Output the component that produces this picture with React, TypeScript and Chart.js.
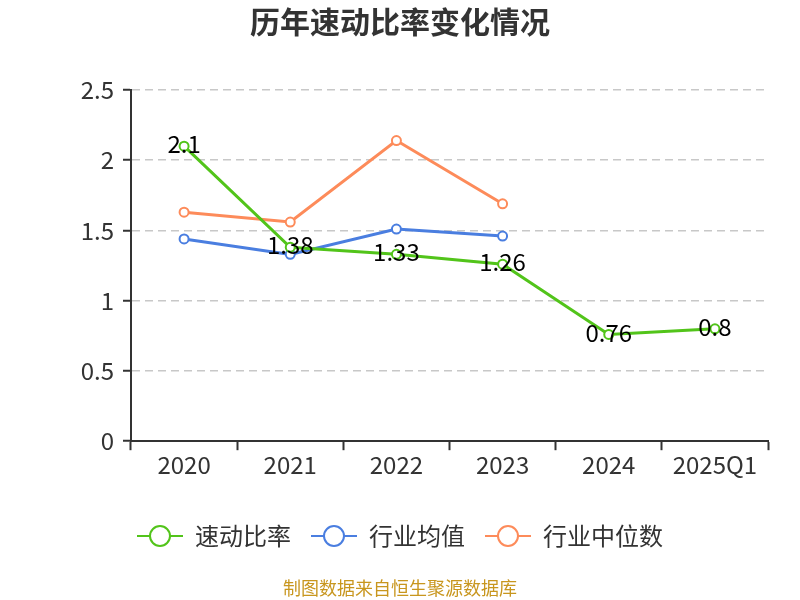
import React, { useEffect, useRef } from 'react';
import Chart from 'chart.js/auto';

const categories = ['2020', '2021', '2022', '2023', '2024', '2025Q1'];
const quickRatio = [2.1, 1.38, 1.33, 1.26, 0.76, 0.8];
const industryMean = [1.44, 1.33, 1.51, 1.46, null, null];
const industryMedian = [1.63, 1.56, 2.14, 1.69, null, null];
const seriesNames = ['速动比率', '行业均值', '行业中位数'];
const seriesColors = ['#52c41a', '#4a7ee0', '#fd8b5a'];

const FONT = '"Noto Sans CJK SC", "Noto Sans", sans-serif';

// line + hollow circle legend icon
const makeIcon = (color: string) => {
  const c = document.createElement('canvas');
  c.width = 46;
  c.height = 26;
  const ctx = c.getContext('2d')!;
  ctx.strokeStyle = color;
  ctx.lineWidth = 2;
  ctx.beginPath();
  ctx.moveTo(0, 13);
  ctx.lineTo(46, 13);
  ctx.stroke();
  ctx.beginPath();
  ctx.arc(23, 13, 10, 0, Math.PI * 2);
  ctx.fillStyle = '#fff';
  ctx.fill();
  ctx.stroke();
  return c;
};

const labelPlugin = {
  id: 'valueLabels',
  afterDatasetsDraw(chart: any) {
    const ctx = chart.ctx;
    const meta = chart.getDatasetMeta(0);
    ctx.save();
    ctx.font = `24px ${FONT}`;
    ctx.fillStyle = '#000';
    ctx.textAlign = 'center';
    ctx.textBaseline = 'middle';
    meta.data.forEach((pt: any, i: number) => {
      ctx.fillText(String(quickRatio[i]), pt.x, pt.y - 2);
    });
    ctx.restore();
  },
};

const sourcePlugin = {
  id: 'sourceNote',
  afterDraw(chart: any) {
    const ctx = chart.ctx;
    ctx.save();
    ctx.font = `18px ${FONT}`;
    ctx.fillStyle = '#c8961e';
    ctx.textAlign = 'center';
    ctx.textBaseline = 'middle';
    ctx.fillText('制图数据来自恒生聚源数据库', chart.width / 2, 588);
    ctx.restore();
  },
};

const App: React.FC = () => {
  const canvasRef = useRef<HTMLCanvasElement | null>(null);

  useEffect(() => {
    document.body.style.margin = '0';
    if (!canvasRef.current) return;
    const icons = seriesColors.map(makeIcon);
    const allData = [quickRatio, industryMean, industryMedian];

    const chart = new Chart(canvasRef.current, {
      type: 'line',
      data: {
        labels: categories,
        datasets: allData.map((d, i) => ({
          label: seriesNames[i],
          data: d,
          borderColor: seriesColors[i],
          backgroundColor: '#fff',
          borderWidth: 3,
          pointRadius: 4.5,
          pointBorderWidth: 2,
          pointBackgroundColor: '#fff',
          pointBorderColor: seriesColors[i],
          tension: 0,
        })),
      },
      options: {
        animation: false,
        responsive: false,
        layout: { padding: { left: 32, right: 32, top: 0, bottom: 42 } },
        plugins: {
          title: {
            display: true,
            text: '历年速动比率变化情况',
            color: '#333',
            font: { family: FONT, size: 30, weight: 'bold' },
            padding: { top: 4, bottom: 50 },
          },
          legend: {
            position: 'bottom',
            labels: {
              usePointStyle: true,
              pointStyleWidth: 46,
              padding: 20,
              color: '#333',
              font: { family: FONT, size: 24 },
              generateLabels: () =>
                seriesNames.map((n, i) => ({
                  text: n,
                  pointStyle: icons[i],
                  fillStyle: '#fff',
                  strokeStyle: seriesColors[i],
                  lineWidth: 0,
                  datasetIndex: i,
                  fontColor: '#333',
                })),
            },
          },
          tooltip: { enabled: false },
        },
        scales: {
          x: {
            offset: true,
            grid: {
              offset: true,
              drawOnChartArea: false,
              tickLength: 9,
              tickColor: '#333',
              tickWidth: 2,
            },
            border: { color: '#333', width: 2 },
            ticks: { color: '#333', font: { family: FONT, size: 24 }, padding: 0 },
            afterFit: (scale: any) => {
              scale.height += 25;
            },
          },
          y: {
            min: 0,
            max: 2.5,
            ticks: {
              stepSize: 0.5,
              color: '#333',
              font: { family: FONT, size: 24 },
              padding: 9,
              callback: (v: any) => String(Number(v)),
            },
            grid: {
              color: '#c8c8c8',
              lineWidth: 1.5,
              tickLength: 8,
              tickColor: '#333',
              tickBorderDash: [],
              tickWidth: 2,
            },
            border: { color: '#333', width: 2, dash: [8, 5] },
            afterFit: (scale: any) => {
              scale.width = 99;
            },
          },
        },
      },
      plugins: [labelPlugin, sourcePlugin],
    });

    return () => chart.destroy();
  }, []);

  return (
    <div style={{ width: 800, height: 600, background: '#fff' }}>
      <canvas ref={canvasRef} width={800} height={600} />
    </div>
  );
};

export default App;
